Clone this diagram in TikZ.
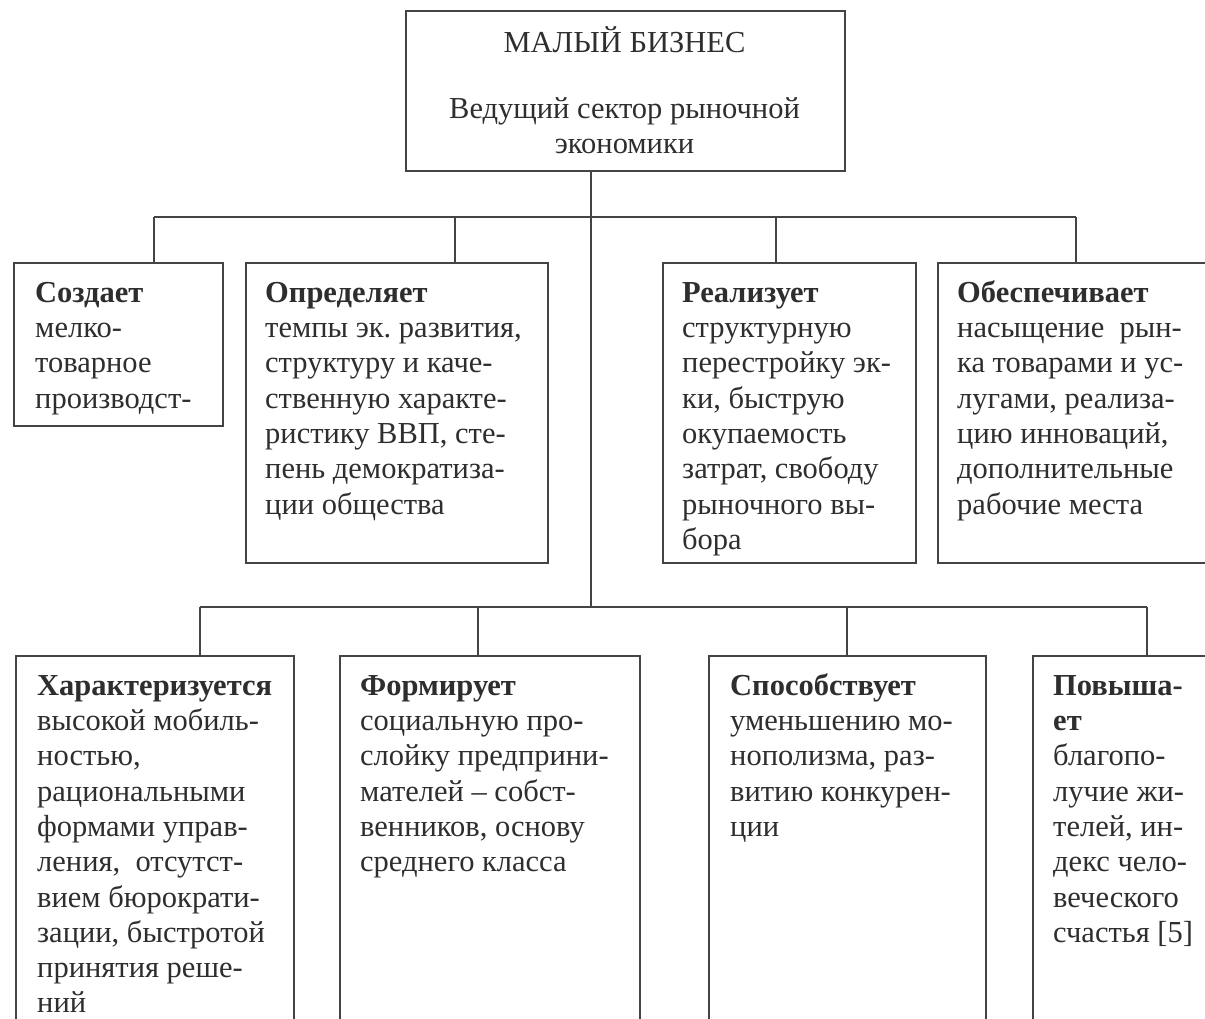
\documentclass[tikz,border=0pt]{standalone}
\usepackage{fontspec}
\setmainfont{Liberation Serif}
\frenchspacing
\definecolor{linec}{HTML}{444444}
\definecolor{textc}{HTML}{2E2E2E}
\begin{document}
\begin{tikzpicture}[x=1pt,y=-1pt,
  box/.style={draw=linec, line width=1.6pt, inner sep=0pt, anchor=north west},
  txt/.style={anchor=north west, inner sep=0pt, align=left, text=textc,
              font=\fontsize{30.5}{35.3}\selectfont},
  ctxt/.style={anchor=north, inner sep=0pt, align=center, text=textc,
              font=\fontsize{30.5}{35.3}\selectfont},
  conn/.style={draw=linec, line width=1.6pt}]
\useasboundingbox (0,0) rectangle (1205,1018);
\fill[white] (0,0) rectangle (1205,1018);
\clip (0,0) rectangle (1205,1018);

% top box
\node[box, minimum width=439pt, minimum height=160pt] (top) at (405,10) {};
\node[ctxt] (toptxt) at (624.5,24) {\rule{0pt}{28pt}МАЛЫЙ БИЗНЕС\\[31pt]Ведущий сектор рыночной\\экономики};

% upper row
\node[box, minimum width=209pt, minimum height=163pt] (u1) at (13,262) {};
\node[box, minimum width=302pt, minimum height=300pt] (u2) at (245,262) {};
\node[box, minimum width=253pt, minimum height=300pt] (u3) at (662,262) {};
\node[box, minimum width=320pt, minimum height=300pt] (u4) at (937,262) {};

\node[txt] (u1t) at (35,274) {\rule{0pt}{28pt}\textbf{Создает}\\мелко-\\товарное\\производст-};
\node[txt] (u2t) at (265,274) {\rule{0pt}{28pt}\textbf{Определяет}\\темпы эк. развития,\\структуру и каче-\\ственную характе-\\ристику ВВП, сте-\\пень демократиза-\\ции общества};
\node[txt] (u3t) at (682,274) {\rule{0pt}{28pt}\textbf{Реализует}\\структурную\\перестройку эк-\\ки, быструю\\окупаемость\\затрат, свободу\\рыночного вы-\\бора};
\node[txt] (u4t) at (957,274) {\rule{0pt}{28pt}\textbf{Обеспечивает}\\насыщение\ \ рын-\\ка товарами и ус-\\лугами, реализа-\\цию инноваций,\\дополнительные\\рабочие места};

% lower row
\node[box, minimum width=278pt, minimum height=420pt] (l1) at (15,655) {};
\node[box, minimum width=300pt, minimum height=420pt] (l2) at (339,655) {};
\node[box, minimum width=277pt, minimum height=420pt] (l3) at (708,655) {};
\node[box, minimum width=260pt, minimum height=420pt] (l4) at (1032,655) {};

\node[txt] (l1t) at (37,667) {\rule{0pt}{28pt}\textbf{Характеризуется}\\высокой мобиль-\\ностью,\\рациональными\\формами управ-\\ления,\ \ отсутст-\\вием бюрократи-\\зации, быстротой\\принятия реше-\\ний};
\node[txt] (l2t) at (360,667) {\rule{0pt}{28pt}\textbf{Формирует}\\социальную про-\\слойку предприни-\\мателей – собст-\\венников, основу\\среднего класса};
\node[txt] (l3t) at (730,667) {\rule{0pt}{28pt}\textbf{Способствует}\\уменьшению мо-\\нополизма, раз-\\витию конкурен-\\ции};
\node[txt] (l4t) at (1053,667) {\rule{0pt}{28pt}\textbf{Повыша-}\\\textbf{ет}\\благопо-\\лучие жи-\\телей, ин-\\декс чело-\\веческого\\счастья [5]};

% connector coordinates
\coordinate (ub) at (591,217);
\coordinate (lb) at (591,607);
\coordinate (ud1) at (154,217);
\coordinate (ud2) at (455,217);
\coordinate (ud3) at (776,217);
\coordinate (ud4) at (1076,217);
\coordinate (ld1) at (200,607);
\coordinate (ld2) at (478,607);
\coordinate (ld3) at (847,607);
\coordinate (ld4) at (1147,607);

\draw[conn] (top.south -| ub) -- (lb);
\draw[conn] (ud1) -- (ud4);
\draw[conn] (ld1) -- (ld4);
\draw[conn] (ud1) -- (ud1 |- u1.north);
\draw[conn] (ud2) -- (ud2 |- u2.north);
\draw[conn] (ud3) -- (ud3 |- u3.north);
\draw[conn] (ud4) -- (ud4 |- u4.north);
\draw[conn] (ld1) -- (ld1 |- l1.north);
\draw[conn] (ld2) -- (ld2 |- l2.north);
\draw[conn] (ld3) -- (ld3 |- l3.north);
\draw[conn] (ld4) -- (ld4 |- l4.north);
\end{tikzpicture}
\end{document}
